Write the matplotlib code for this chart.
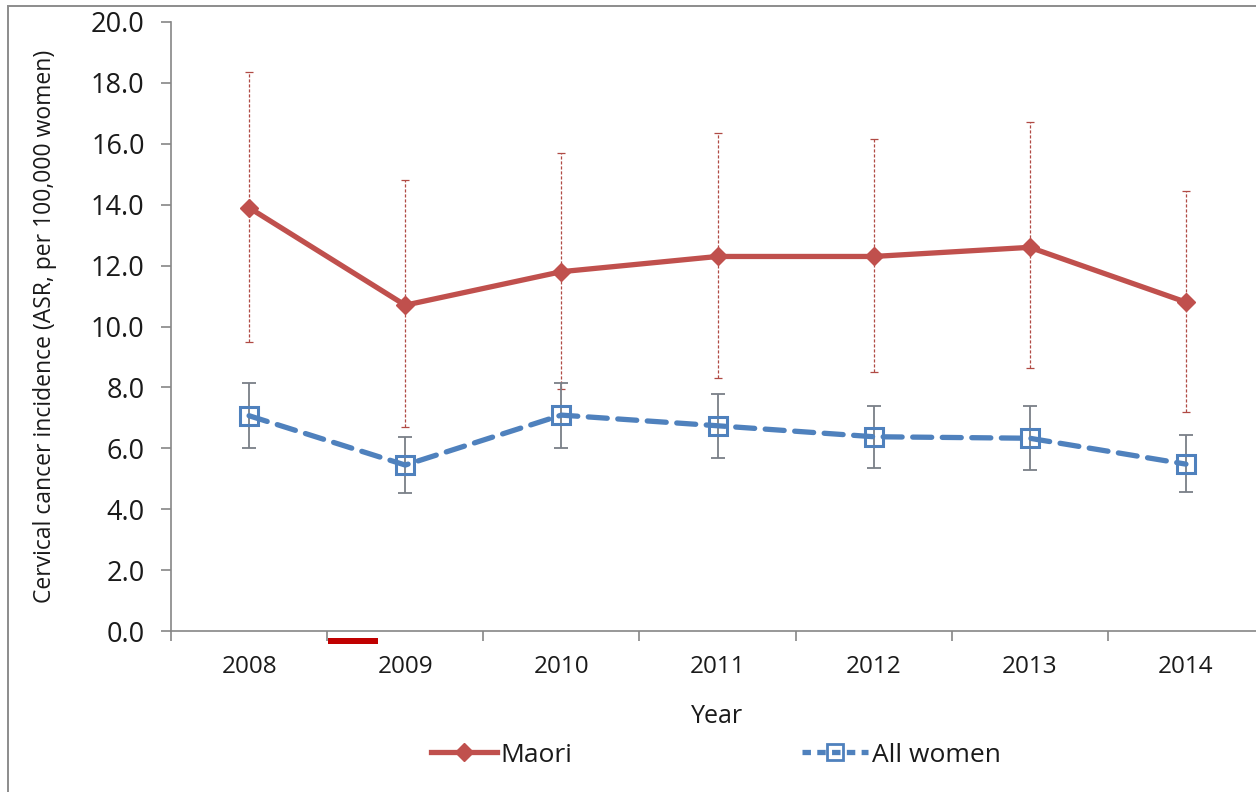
import matplotlib
matplotlib.use("Agg")
import matplotlib.pyplot as plt
from matplotlib.patches import Rectangle
from matplotlib.lines import Line2D
import numpy as np

# Cervical cancer incidence, age-standardised rate per 100,000 women
years = ["2008", "2009", "2010", "2011", "2012", "2013", "2014"]
maori = [13.9, 10.7, 11.8, 12.3, 12.3, 12.6, 10.8]
maori_low = [9.5, 6.7, 7.95, 8.3, 8.5, 8.65, 7.2]
maori_high = [18.35, 14.8, 15.7, 16.35, 16.15, 16.7, 14.45]
all_women = [7.07, 5.45, 7.09, 6.74, 6.38, 6.33, 5.48]
all_low = [6.02, 4.52, 6.02, 5.69, 5.36, 5.29, 4.58]
all_high = [8.15, 6.38, 8.15, 7.78, 7.39, 7.39, 6.44]
y_ticks = [0.0, 2.0, 4.0, 6.0, 8.0, 10.0, 12.0, 14.0, 16.0, 18.0, 20.0]

FONT = "Open Sans"
plt.rcParams["font.family"] = [FONT, "DejaVu Sans"]

W, H = 1256, 792
fig = plt.figure(figsize=(W / 100, H / 100), dpi=100)
fig.patch.set_facecolor("white")

AX_L, AX_R, AX_T, AX_B = 171, 1264, 22, 631
ax = fig.add_axes([AX_L / W, 1 - AX_B / H, (AX_R - AX_L) / W, (AX_B - AX_T) / H])
x = np.arange(len(years))

RED = "#c0504d"
BLUE = "#4f81bd"
GRAY = "#7a7f87"
TEXT = "#1a1a1a"

m = np.array(maori)
a = np.array(all_women)

# confidence intervals
eb_m = ax.errorbar(x, m, yerr=[m - np.array(maori_low), np.array(maori_high) - m],
                   fmt="none", ecolor="#b04a44", elinewidth=0.9, capsize=3,
                   capthick=0.9, zorder=2)
eb_m[2][0].set_linestyle((0, (2.5, 1.5)))
ax.errorbar(x, a, yerr=[a - np.array(all_low), np.array(all_high) - a],
            fmt="none", ecolor=GRAY, elinewidth=1.3, capsize=5, capthick=1.3,
            zorder=4)

# series lines
ax.plot(x, m, color=RED, lw=3.8, marker="D", ms=9, mfc=RED, mec=RED,
        solid_joinstyle="round", zorder=3)
ax.plot(x, a, color=BLUE, lw=3.8, linestyle=(0, (3.6, 2.0)),
        dash_capstyle="round", marker="s", ms=12.5, mfc="none", mec=BLUE,
        mew=2.2, zorder=5)

ax.set_xlim(-0.5, 6.5)
ax.set_ylim(0, 20)

for side in ("top", "right"):
    ax.spines[side].set_visible(False)
for side in ("left", "bottom"):
    ax.spines[side].set_color("#868686")
    ax.spines[side].set_linewidth(1.2)

ax.set_yticks(y_ticks)
ax.set_yticklabels([f"{v:.1f}" for v in y_ticks])
ax.tick_params(axis="y", direction="out", length=7, width=1.2, color="#868686",
               labelsize=19.5, labelcolor=TEXT, pad=12)

ax.set_xticks(x)
ax.set_xticklabels(years)
ax.set_xticks(np.arange(-0.5, 7.0, 1.0), minor=True)
ax.tick_params(axis="x", which="major", length=0, labelsize=17.5,
               labelcolor=TEXT, pad=17)
ax.tick_params(axis="x", which="minor", direction="out", length=7, width=1.2,
               color="#868686")

ax.set_xlabel("Year", fontsize=18, color=TEXT)
ax.xaxis.set_label_coords((717 - AX_L) / (AX_R - AX_L),
                          -(704 - AX_B) / (AX_B - AX_T))
ax.set_ylabel("Cervical cancer incidence (ASR, per 100,000 women)",
              fontsize=16.5, color=TEXT)
ax.yaxis.set_label_coords(-(AX_L - 57) / (AX_R - AX_L), 0.5)

# legend below the plot
handles = [
    Line2D([], [], color=RED, lw=3.8, marker="D", ms=9, mfc=RED, mec=RED),
    Line2D([], [], color=BLUE, lw=3.8, linestyle=(0, (1.6, 1.2)),
           marker="s", ms=11, mfc="none", mec=BLUE, mew=2.0),
]
fig.legend(handles, ["Maori", "All women"], loc="center",
           bbox_to_anchor=(716 / W, 1 - 755 / H), ncol=2, frameon=False,
           fontsize=19, handlelength=2.5, handletextpad=0.15,
           columnspacing=8.7, labelcolor=TEXT)

# outer chart frame
fig.add_artist(Rectangle((8 / W, -0.1), 1.2, 1.1 - 6 / H,
                         transform=fig.transFigure, fill=False,
                         edgecolor="#8c8c8c", lw=1.4))
# red marker bar under the axis
fig.add_artist(Rectangle((328 / W, 1 - 644 / H), 50 / W, 6 / H,
                         transform=fig.transFigure, facecolor="#c00000",
                         edgecolor="none"))

fig.savefig("out.png", dpi=100)
